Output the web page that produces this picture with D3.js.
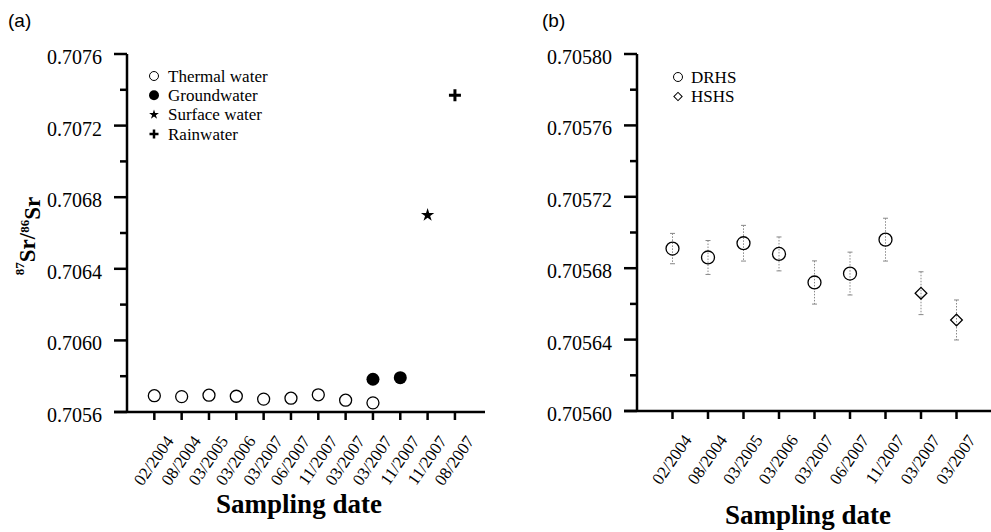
<!DOCTYPE html>
<html>
<head>
<meta charset="utf-8">
<script src="https://cdn.jsdelivr.net/npm/d3@7"></script>
<style>
    body { margin: 0; background: #fff; }
    text { font-family: "Liberation Serif", "Times New Roman", serif; fill: #000; }
</style>
</head>
<body>
<svg id="chart" width="991" height="532"></svg>
<script>
// panel (a) data
const datesA = ["02/2004", "08/2004", "03/2005", "03/2006", "03/2007", "06/2007",
                "11/2007", "03/2007", "03/2007", "11/2007", "11/2007", "08/2007"]
const thermalIdx = [0, 1, 2, 3, 4, 5, 6, 7, 8]
const thermalVals = [0.705691, 0.705686, 0.705694, 0.705688, 0.705672, 0.705677, 0.705696, 0.705666, 0.705651]
const groundIdx = [8, 9]
const groundVals = [0.705783, 0.705792]
const surfaceIdx = [10]
const surfaceVals = [0.70670]
const rainIdx = [11]
const rainVals = [0.70737]
const ticksA = [0.7056, 0.7060, 0.7064, 0.7068, 0.7072, 0.7076]

// panel (b) data
const datesB = ["02/2004", "08/2004", "03/2005", "03/2006", "03/2007", "06/2007",
                "11/2007", "03/2007", "03/2007"]
const drhsVals = [0.705691, 0.705686, 0.705694, 0.705688, 0.705672, 0.705677, 0.705696]
const drhsErr = [0.0000085, 0.0000095, 0.0000100, 0.0000095, 0.0000121, 0.0000120, 0.0000120]
const hshsVals = [0.705666, 0.705651]
const hshsErr = [0.0000120, 0.0000112]
const ticksB = [0.70560, 0.70564, 0.70568, 0.70572, 0.70576, 0.70580]

const svg = d3.select("#chart")

// draws a y axis with major + minor ticks, and an x axis with rotated date labels
function drawAxes(x, y, majors, fmt, dates, titleX, titleY) {
    const x0 = x.range()[0], x1 = x.range()[1]
    const y0 = y.range()[0], y1 = y.range()[1]
    const g = svg.append("g")

    g.append("line").attr("x1", x0).attr("x2", x0).attr("y1", y0).attr("y2", y1)
        .attr("stroke", "#000").attr("stroke-width", 2.5)
    g.append("line").attr("x1", x0 - 13).attr("x2", x1).attr("y1", y0).attr("y2", y0)
        .attr("stroke", "#000").attr("stroke-width", 2.5)

    g.selectAll(".maj").data(majors).join("line")
        .attr("x1", x0 - 13).attr("x2", x0)
        .attr("y1", d => y(d)).attr("y2", d => y(d))
        .attr("stroke", "#000").attr("stroke-width", 2.5)

    const step = majors[1] - majors[0]
    const minors = majors.slice(0, -1).map(d => d + step / 2)
    g.selectAll(".min").data(minors).join("line")
        .attr("x1", x0 - 7).attr("x2", x0)
        .attr("y1", d => y(d)).attr("y2", d => y(d))
        .attr("stroke", "#000").attr("stroke-width", 2.5)

    g.selectAll(".ylab").data(majors).join("text")
        .attr("x", x0 - 25).attr("y", d => y(d))
        .attr("dy", "0.5em")
        .attr("text-anchor", "end")
        .style("font-size", "20px")
        .text(fmt)

    g.selectAll(".xt").data(dates).join("line")
        .attr("x1", (d, i) => x(i)).attr("x2", (d, i) => x(i))
        .attr("y1", y0).attr("y2", y0 + 8)
        .attr("stroke", "#000").attr("stroke-width", 2.5)

    g.selectAll(".xlab").data(dates).join("text")
        .attr("transform", (d, i) => `translate(${x(i) + 20},${y0 + 29}) rotate(-55)`)
        .attr("text-anchor", "end")
        .style("font-size", "17px")
        .text(d => d)

    g.append("text")
        .attr("x", titleX).attr("y", titleY)
        .attr("text-anchor", "middle")
        .style("font-size", "27px").style("font-weight", "bold")
        .text("Sampling date")
}

// ---- panel (a)
const xA = d3.scaleLinear().domain([-1, 12.1]).range([127, 485])
const yA = d3.scaleLinear().domain([0.7056, 0.7076]).range([412, 54])
drawAxes(xA, yA, ticksA, d3.format(".4f"), datesA, 299, 513)

svg.append("text").attr("x", 8).attr("y", 27)
    .style("font-family", "'Liberation Sans', Arial, sans-serif").style("font-size", "19px")
    .text("(a)")

const yTitle = svg.append("text")
    .attr("transform", "translate(30,236) rotate(-90)")
    .attr("text-anchor", "middle")
    .style("font-weight", "bold").style("font-size", "23px")
yTitle.append("tspan").attr("dy", "-0.5em").style("font-size", "13px").text("87")
yTitle.append("tspan").attr("dy", "0.5em").text("Sr/")
yTitle.append("tspan").attr("dy", "-0.5em").style("font-size", "13px").text("86")
yTitle.append("tspan").attr("dy", "0.5em").text("Sr")

svg.append("g").selectAll("circle").data(thermalVals).join("circle")
    .attr("cx", (d, i) => xA(thermalIdx[i])).attr("cy", d => yA(d)).attr("r", 6)
    .attr("fill", "#fff").attr("stroke", "#000").attr("stroke-width", 1.3)

svg.append("g").selectAll("circle").data(groundVals).join("circle")
    .attr("cx", (d, i) => xA(groundIdx[i])).attr("cy", d => yA(d)).attr("r", 6.5)
    .attr("fill", "#000")

const star = d3.symbol().type(d3.symbolStar)
svg.append("g").selectAll("path").data(surfaceVals).join("path")
    .attr("transform", (d, i) => `translate(${xA(surfaceIdx[i])},${yA(d)})`)
    .attr("d", star.size(55)()).attr("fill", "#000")

function plus(s) {
    return `M${-s},0H${s}M0,${-s}V${s}`
}
svg.append("g").selectAll("path").data(rainVals).join("path")
    .attr("transform", (d, i) => `translate(${xA(rainIdx[i])},${yA(d)})`)
    .attr("d", plus(6)).attr("stroke", "#000").attr("stroke-width", 3)

// legend (a)
const legA = svg.append("g").attr("transform", "translate(154,76)")
const legNames = ["Thermal water", "Groundwater", "Surface water", "Rainwater"]
legNames.forEach((name, i) => {
    const row = legA.append("g").attr("transform", `translate(0,${i * 19.3})`)
    if (i === 0) row.append("circle").attr("r", 4.5).attr("fill", "#fff").attr("stroke", "#000")
    if (i === 1) row.append("circle").attr("r", 5).attr("fill", "#000")
    if (i === 2) row.append("path").attr("d", star.size(30)()).attr("fill", "#000")
    if (i === 3) row.append("path").attr("d", plus(4.5)).attr("stroke", "#000").attr("stroke-width", 2.5)
    row.append("text").attr("x", 14).attr("dy", "0.33em").style("font-size", "17px").text(name)
})

// ---- panel (b)
const xB = d3.scaleLinear().domain([-1, 9]).range([637, 992])
const yB = d3.scaleLinear().domain([0.70560, 0.70580]).range([411, 54])
drawAxes(xB, yB, ticksB, d3.format(".5f"), datesB, 808, 524)

svg.append("text").attr("x", 542).attr("y", 27)
    .style("font-family", "'Liberation Sans', Arial, sans-serif").style("font-size", "19px")
    .text("(b)")

const pointsB = drhsVals.map((v, i) => ({i: i, v: v, e: drhsErr[i], type: "c"}))
    .concat(hshsVals.map((v, i) => ({i: drhsVals.length + i, v: v, e: hshsErr[i], type: "d"})))

const errG = svg.append("g").attr("stroke", "#888").attr("stroke-width", 1)
pointsB.forEach(p => {
    const cx = xB(p.i)
    errG.append("line").attr("x1", cx).attr("x2", cx)
        .attr("y1", yB(p.v + p.e)).attr("y2", yB(p.v - p.e))
        .attr("stroke-dasharray", "1.5,1.5")
    errG.append("line").attr("x1", cx - 2.5).attr("x2", cx + 2.5)
        .attr("y1", yB(p.v + p.e)).attr("y2", yB(p.v + p.e))
    errG.append("line").attr("x1", cx - 2.5).attr("x2", cx + 2.5)
        .attr("y1", yB(p.v - p.e)).attr("y2", yB(p.v - p.e))
})

const diamond = d3.symbol().type(d3.symbolSquare)
svg.append("g").selectAll("path").data(pointsB).join("path")
    .attr("transform", d => `translate(${xB(d.i)},${yB(d.v)}) rotate(${d.type === "d" ? 45 : 0})`)
    .attr("d", d => d.type === "c" ? d3.symbol().type(d3.symbolCircle).size(Math.PI * 42)() : diamond.size(68)())
    .attr("fill", "none").attr("stroke", "#000").attr("stroke-width", 1.3)

// legend (b)
const legB = svg.append("g").attr("transform", "translate(678,77)")
legB.append("circle").attr("r", 4.5).attr("fill", "#fff").attr("stroke", "#000")
legB.append("text").attr("x", 13).attr("dy", "0.33em").style("font-size", "17px").text("DRHS")
legB.append("path").attr("transform", "translate(0,19.5) rotate(45)")
    .attr("d", diamond.size(34)()).attr("fill", "none").attr("stroke", "#000")
legB.append("text").attr("x", 13).attr("y", 19.5).attr("dy", "0.33em").style("font-size", "17px").text("HSHS")
</script>
</body>
</html>
